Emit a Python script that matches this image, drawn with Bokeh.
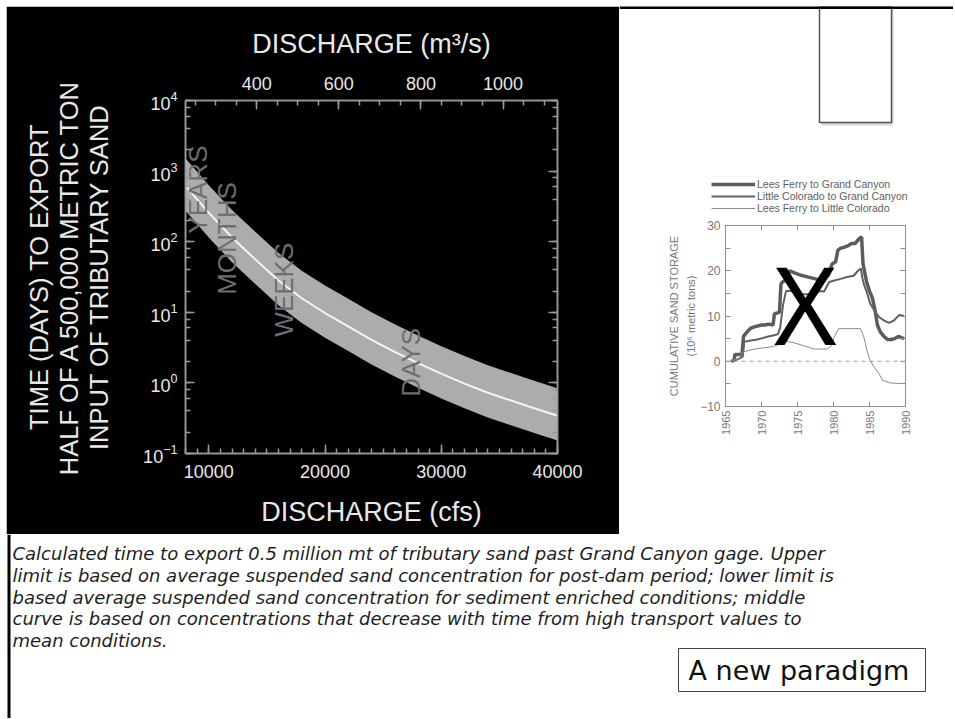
import math
from bokeh.plotting import figure
from bokeh.models import (Range1d, LinearAxis, LogAxis, SingleIntervalTicker, LogTicker, Span, Label,
                          Legend, LegendItem, CustomJSTickFormatter, Spacer)
from bokeh.layouts import column, row
from bokeh.core.properties import value
from bokeh.embed import file_html
from bokeh.resources import INLINE

# ---------------- data: main chart ----------------
discharge_cfs = [8000, 9000, 10000, 12000, 14000, 16000, 18000, 20000, 22000,
                 24000, 26000, 28000, 30000, 32000, 34000, 36000, 38000, 40000]
days_upper = [1514, 977, 631, 282, 138, 69.2, 38.9, 24.0, 15.5,
              10.0, 6.76, 4.68, 3.31, 2.40, 1.78, 1.38, 1.07, 0.84]
days_middle = [617, 398, 257, 115, 56.2, 28.2, 15.8, 9.77, 6.31,
               4.07, 2.75, 1.91, 1.35, 0.977, 0.724, 0.562, 0.437, 0.343]
days_lower = [275, 178, 115, 51.3, 25.1, 12.6, 7.08, 4.37, 2.82,
              1.82, 1.23, 0.851, 0.603, 0.437, 0.324, 0.251, 0.195, 0.153]
CFS_PER_M3S = 35.3147
x_min_cfs, x_max_cfs = 8000, 40000
y_min_days, y_max_days = 0.1, 10000

# ---------------- data: inset chart ----------------
years_lf_gc = [1965.8, 1966.2, 1966.3, 1967.3, 1967.5, 1968.0, 1968.5, 1969.0, 1970.0, 1970.5,
               1971.0, 1971.6, 1971.8, 1972.5, 1972.7, 1972.9, 1973.5, 1973.9, 1974.5, 1975.5,
               1976.5, 1977.5, 1978.3, 1978.8, 1979.3, 1979.8, 1980.3, 1980.6, 1981.0, 1981.5,
               1982.0, 1982.5, 1983.0, 1983.5, 1983.9, 1984.1, 1984.6, 1985.0, 1985.4, 1985.8,
               1986.1, 1986.5, 1987.0, 1987.5, 1988.0, 1988.5, 1989.0, 1989.8]
storage_lf_gc = [0, 0.2, 1.5, 1.5, 5.5, 6.5, 7.3, 7.6, 8.0, 8.0,
                 8.2, 8.0, 10.5, 10.8, 17.0, 17.5, 18.0, 20.0, 19.6, 19.0,
                 18.6, 18.2, 17.8, 18.5, 19.0, 21.5, 22.0, 24.5, 25.0, 25.2,
                 25.5, 26.0, 26.0, 27.0, 27.5, 21.5, 17.5, 15.5, 14.0, 11.0,
                 8.0, 6.5, 5.5, 4.8, 4.8, 5.0, 5.5, 5.0]
years_lc_gc = [1965.9, 1966.5, 1966.9, 1967.4, 1967.6, 1968.5, 1969.4, 1970.8, 1971.9, 1972.3,
               1972.6, 1973.0, 1973.4, 1974.0, 1974.5, 1975.5, 1976.5, 1977.3, 1978.0, 1978.7,
               1979.4, 1980.0, 1981.0, 1981.9, 1982.8, 1983.4, 1983.8, 1984.0, 1984.2, 1984.7,
               1985.1, 1985.8, 1986.3, 1987.0, 1987.7, 1988.4, 1989.1, 1989.8]
storage_lc_gc = [0, 0.3, 0.6, 1.0, 4.3, 4.6, 4.8, 5.4, 5.8, 6.0,
                 7.5, 12.5, 15.5, 15.6, 15.2, 14.8, 14.8, 14.8, 15.5, 15.4,
                 17.5, 17.8, 18.2, 18.6, 18.9, 20.0, 20.5, 18.5, 17.1, 14.9,
                 12.7, 10.9, 9.8, 9.0, 8.5, 9.0, 10.2, 10.0]
years_lf_lc = [1965.5, 1966.0, 1966.9, 1967.5, 1968.5, 1969.4, 1970.5, 1971.3, 1972.2, 1972.6,
               1973.5, 1974.5, 1975.5, 1976.3, 1977.3, 1978.2, 1979.1, 1979.8, 1980.0, 1980.7,
               1981.5, 1982.5, 1983.75, 1984.2, 1984.7, 1985.1, 1985.6, 1986.3, 1986.8, 1987.9,
               1989.0, 1990.0]
storage_lf_lc = [0, 0.2, 0.6, 2.1, 2.5, 2.8, 3.0, 3.2, 3.5, 4.6,
                 4.4, 4.1, 3.6, 3.2, 2.7, 2.7, 2.7, 3.5, 5.0, 7.2,
                 7.2, 7.2, 7.2, 5.4, 2.1, 0.1, -1.2, -2.7, -4.2, -4.8,
                 -4.9, -4.9]
series_names = ["Lees Ferry to Grand Canyon", "Little Colorado to Grand Canyon",
                "Lees Ferry to Little Colorado"]

caption_lines = [
    "Calculated time to export 0.5 million mt of tributary sand past Grand Canyon gage. Upper",
    "limit is based on average suspended sand concentration for post-dam period; lower limit is",
    "based average suspended sand concentration for sediment enriched conditions; middle",
    "curve is based on concentrations that decrease with time from high transport values to",
    "mean conditions.",
]

SANS = "Liberation Sans"
EMPTY = CustomJSTickFormatter(code="return ''")
SERIES_STYLE = [dict(line_color="#5c5c5c", line_width=3.5),
                dict(line_color="#626262", line_width=2),
                dict(line_color="#8c8c8c", line_width=1)]


def style_axis(ax, line_color, label_color, font_size, tick_in, minor_in, lw=1.5):
    ax.axis_line_color = line_color
    ax.axis_line_width = lw
    ax.major_tick_line_color = line_color
    ax.minor_tick_line_color = line_color
    ax.major_tick_line_width = lw
    ax.minor_tick_line_width = lw
    ax.major_tick_in = tick_in
    ax.major_tick_out = 0
    ax.minor_tick_in = minor_in
    ax.minor_tick_out = 0
    ax.major_label_text_color = label_color
    ax.major_label_text_font = SANS
    ax.major_label_text_font_size = font_size
    ax.axis_label_text_color = label_color
    ax.axis_label_text_font = SANS
    ax.axis_label_text_font_style = "normal"


# ---------------- main (black) chart ----------------
p = figure(frame_width=372, frame_height=353,
           min_border_left=179, min_border_right=62, min_border_top=94, min_border_bottom=81,
           x_range=Range1d(x_min_cfs, x_max_cfs), y_range=Range1d(y_min_days, y_max_days),
           y_axis_type="log", output_backend="svg", toolbar_location=None,
           background_fill_color="black", border_fill_color="black",
           outline_line_color="#9a9a9a", outline_line_width=1.5)
p.grid.visible = False

p.varea(x=discharge_cfs, y1=days_lower, y2=days_upper, fill_color="#acacac")
p.line(discharge_cfs, days_middle, line_color="#f4f4f4", line_width=2)

p.text(x=[9033, 11590, 16437, 27370], y=[547, 111, 20.9, 1.96],
       text=["YEARS", "MONTHS", "WEEKS", "DAYS"], angle=math.pi / 2,
       text_align="center", text_baseline="middle", text_color="#6e6e6e",
       text_font=value(SANS), text_font_size="26px")

bx = p.xaxis[0]
bx.ticker = SingleIntervalTicker(interval=10000, num_minor_ticks=10)
bx.axis_label = "DISCHARGE (cfs)"
style_axis(bx, "#9a9a9a", "#e8e8e8", "18px", 9, 5)
bx.axis_label_text_font_size = "27px"
bx.major_label_standoff = 11
bx.axis_label_standoff = 16

ly = p.yaxis[0]
ly.ticker = LogTicker()
ly.axis_label = "TIME (DAYS) TO EXPORT\nHALF OF A 500,000 METRIC TON\nINPUT OF TRIBUTARY SAND"
style_axis(ly, "#9a9a9a", "#e8e8e8", "18px", 9, 5)
ly.axis_label_text_font_size = "25.5px"
ly.axis_label_text_line_height = 1.08
ly.major_label_standoff = 8
ly.axis_label_standoff = 27

p.extra_x_ranges = {"m3s": Range1d(x_min_cfs / CFS_PER_M3S, x_max_cfs / CFS_PER_M3S)}
tx = LinearAxis(x_range_name="m3s", ticker=SingleIntervalTicker(interval=200, num_minor_ticks=4),
                axis_label="DISCHARGE (m\u00b3/s)")
style_axis(tx, "#9a9a9a", "#e8e8e8", "18px", 9, 5)
tx.axis_label_text_font_size = "27px"
tx.major_label_standoff = 11
tx.axis_label_standoff = 15
p.add_layout(tx, "above")

ry = LogAxis(ticker=LogTicker(), formatter=EMPTY)
style_axis(ry, "#9a9a9a", "#e8e8e8", "18px", 9, 5)
ry.major_label_standoff = 0
p.add_layout(ry, "right")

# ---------------- right column: top strip (slide line, empty box, inset legend) ----------------
t = figure(width=334, height=209, x_range=Range1d(0, 334), y_range=Range1d(209, 0),
           min_border=0, x_axis_location=None, y_axis_location=None,
           output_backend="svg", toolbar_location=None, outline_line_color=None)
t.grid.visible = False
t.quad(left=[202], right=[274], top=[3], bottom=[119], fill_color="#d6d6d6", line_color=None)
t.quad(left=[200], right=[272], top=[0], bottom=[116], fill_color="white",
       line_color="#555555", line_width=1.5)
t.segment(x0=[0], y0=[1], x1=[334], y1=[1], line_color="black", line_width=3)
# legend keys for the inset series (same styles as the inset lines; the single
# point lies off the visible range so only the legend swatch is drawn)
key_renderers = [t.line(x=[-50], y=[-50], **st) for st in SERIES_STYLE]
leg = Legend(items=[LegendItem(label=n, renderers=[r]) for n, r in zip(series_names, key_renderers)],
             location=(92, 1), background_fill_alpha=0, border_line_color=None,
             label_text_font=SANS, label_text_font_size="10.5px", label_text_color="#606060",
             label_height=8, glyph_height=8, glyph_width=44, label_standoff=2,
             spacing=-4, padding=0, margin=0, label_text_line_height=0.8)
t.add_layout(leg)

# ---------------- right column: inset chart ----------------
s = figure(frame_width=180, frame_height=181,
           min_border_left=106, min_border_right=48, min_border_top=10, min_border_bottom=128,
           x_range=Range1d(1965, 1990), y_range=Range1d(-10, 30),
           output_backend="svg", toolbar_location=None,
           outline_line_color="#8f8f8f", outline_line_width=1)
s.grid.visible = False
s.add_layout(Span(location=0, dimension="width", line_color="#9a9a9a",
                  line_dash="4 4", line_width=1))
s.line(years_lf_gc, storage_lf_gc, **SERIES_STYLE[0])
s.line(years_lc_gc, storage_lc_gc, **SERIES_STYLE[1])
s.line(years_lf_lc, storage_lf_lc, **SERIES_STYLE[2])

sx = s.xaxis[0]
sx.ticker = SingleIntervalTicker(interval=5, num_minor_ticks=0)
style_axis(sx, "#8f8f8f", "#777777", "11px", 5, 0, lw=1)
sx.major_label_orientation = math.pi / 2
sx.major_label_standoff = 4

sy = s.yaxis[0]
sy.ticker = SingleIntervalTicker(interval=10, num_minor_ticks=2)
sy.axis_label = "CUMULATIVE SAND STORAGE\n(10\u2076 metric tons)"
style_axis(sy, "#8f8f8f", "#777777", "12px", 5, 5, lw=1)
sy.axis_label_text_font_size = "11px"
sy.axis_label_text_line_height = 1.45
sy.major_label_standoff = 5
sy.axis_label_standoff = 0

ax_r = LinearAxis(ticker=SingleIntervalTicker(interval=10, num_minor_ticks=2), formatter=EMPTY)
style_axis(ax_r, "#8f8f8f", "#777777", "11px", 5, 5, lw=1)
ax_r.major_label_standoff = 0
s.add_layout(ax_r, "right")

ax_t = LinearAxis(ticker=SingleIntervalTicker(interval=5, num_minor_ticks=0), formatter=EMPTY)
style_axis(ax_t, "#8f8f8f", "#777777", "11px", 5, 0, lw=1)
ax_t.major_label_standoff = 0
s.add_layout(ax_t, "above")

s.add_layout(Label(x=1976.1, y=12.8, text="X", text_font="Noto Sans",
                   text_font_size="107px", text_align="center", text_baseline="alphabetic",
                   text_color="black"))

# ---------------- bottom strip: caption and boxed note ----------------
b = figure(width=953, height=184, x_range=Range1d(0, 953), y_range=Range1d(184, 0),
           min_border=0, x_axis_location=None, y_axis_location=None,
           output_backend="svg", toolbar_location=None, outline_line_color=None)
b.grid.visible = False
b.segment(x0=[8.5], y0=[0], x1=[8.5], y1=[184], line_color="black", line_width=3)
b.text(x=[12] * len(caption_lines), y=[19, 41, 63, 84, 106], text=caption_lines,
       text_align="left", text_baseline="middle", text_color="#1e1e1e",
       text_font=value("DejaVu Sans"), text_font_style="italic", text_font_size="18px")
b.quad(left=[678], right=[925], top=[114], bottom=[157], fill_color="white",
       line_color="#444444", line_width=1)
b.text(x=[688], y=[135.5], text=["A new paradigm"], text_align="left", text_baseline="middle",
       text_color="#111111", text_font=value("DejaVu Sans"), text_font_size="27px")

layout = column(Spacer(height=6, width=953),
                row(Spacer(width=6, height=528), p, column(row(t), row(s))),
                b)
open("out.html", "w").write(file_html(layout, INLINE))
